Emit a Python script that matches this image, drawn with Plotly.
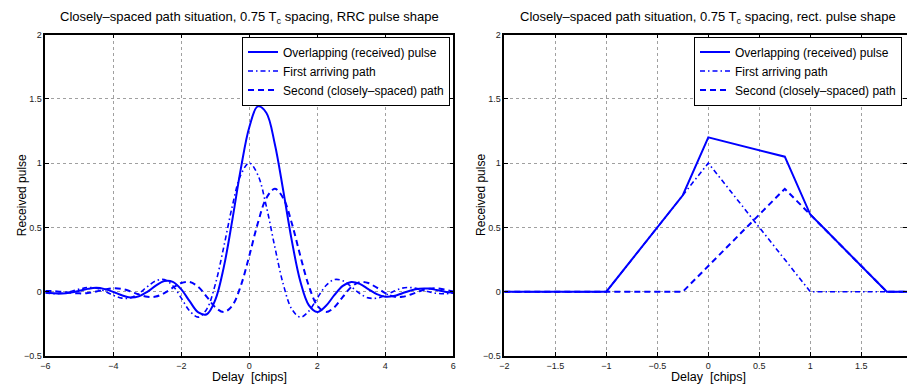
import plotly.graph_objects as go

W, H = 907, 385

# ---------------- data ----------------
delay_rrc = [-6.0, -5.75, -5.5, -5.25, -5.0, -4.75, -4.5, -4.25, -4.0, -3.75, -3.5, -3.25,
             -3.0, -2.75, -2.5, -2.25, -2.0, -1.75, -1.5, -1.25, -1.0, -0.75, -0.5, -0.25,
             0.0, 0.25, 0.5, 0.75, 1.0, 1.25, 1.5, 1.75, 2.0, 2.25, 2.5, 2.75,
             3.0, 3.25, 3.5, 3.75, 4.0, 4.25, 4.5, 4.75, 5.0, 5.25, 5.5, 5.75, 6.0]

rrc_first = [-0.010, -0.016, -0.012, 0.002, 0.020, 0.032, 0.028, 0.004, -0.028, -0.050, -0.048, -0.014,
             0.039, 0.085, 0.094, 0.046, -0.050, -0.151, -0.198, -0.135, 0.057, 0.349, 0.665, 0.909,
             1.000, 0.909, 0.665, 0.349, 0.057, -0.135, -0.198, -0.151, -0.050, 0.046, 0.094, 0.085,
             0.039, -0.014, -0.048, -0.050, -0.028, 0.004, 0.028, 0.032, 0.020, 0.002, -0.012, -0.016, -0.010]

rrc_second = [0.006, 0.004, -0.002, -0.008, -0.013, -0.010, 0.002, 0.016, 0.026, 0.022, 0.003, -0.022,
              -0.040, -0.038, -0.011, 0.031, 0.068, 0.075, 0.037, -0.040, -0.121, -0.158, -0.108, 0.046,
              0.279, 0.532, 0.727, 0.800, 0.727, 0.532, 0.279, 0.046, -0.108, -0.158, -0.121, -0.040,
              0.037, 0.075, 0.068, 0.031, -0.011, -0.038, -0.040, -0.022, 0.003, 0.022, 0.026, 0.016, 0.002]

rrc_overlap = [-0.004, -0.012, -0.014, -0.006, 0.007, 0.022, 0.030, 0.020, -0.002, -0.028, -0.045, -0.036,
               -0.001, 0.047, 0.083, 0.077, 0.018, -0.076, -0.161, -0.175, -0.064, 0.191, 0.557, 0.955,
               1.279, 1.441, 1.392, 1.149, 0.784, 0.397, 0.081, -0.105, -0.158, -0.112, -0.027, 0.045,
               0.076, 0.061, 0.020, -0.019, -0.039, -0.034, -0.012, 0.010, 0.023, 0.024, 0.014, 0.000, -0.008]

delay_rect = [-2.0, -1.0, -0.25, 0.0, 0.75, 1.0, 1.75, 2.0]
rect_first = [0.0, 0.0, 0.75, 1.0, 0.25, 0.0, 0.0, 0.0]
rect_second = [0.0, 0.0, 0.0, 0.2, 0.8, 0.6, 0.0, 0.0]
rect_overlap = [0.0, 0.0, 0.75, 1.2, 1.05, 0.6, 0.0, 0.0]

series_names = ["Overlapping (received) pulse", "First arriving path", "Second (closely\u2013spaced) path"]
titles = ["Closely\u2013spaced path situation, 0.75 T<sub>c</sub> spacing, RRC pulse shape",
          "Closely\u2013spaced path situation, 0.75 T<sub>c</sub> spacing, rect. pulse shape"]
xlabel = "Delay\u00a0\u00a0[chips]"
ylabel = "Received pulse"
rrc_xticks = [-6, -4, -2, 0, 2, 4, 6]
rect_xticks = [-2, -1.5, -1, -0.5, 0, 0.5, 1, 1.5, 2]
yticks = [-0.5, 0, 0.5, 1, 1.5, 2]

# ---------------- styling ----------------
FONT = "Liberation Sans, Arial, Helvetica, sans-serif"
BLUE = "rgb(0,0,255)"
dashes = ["solid", "5px,3px,1.5px,3px", "6px,4px"]
widths = [2, 1.6, 2]

L_x0, L_x1 = 45.3, 453.3
R_x0 = 504.3
R_px_per_unit = 102.0
Y_top, Y_bot = 34.5, 356.0

def px2fx(px):
    return px / W

def px2fy(py):
    return 1 - py / H

fig = go.Figure()

left_sets = [rrc_overlap, rrc_first, rrc_second]
for i, ys in enumerate(left_sets):
    fig.add_trace(go.Scatter(
        x=delay_rrc, y=ys, mode="lines", name=series_names[i],
        line=dict(color=BLUE, width=widths[i], dash=dashes[i], shape="spline", smoothing=1.0),
        xaxis="x", yaxis="y", legend="legend"))

right_sets = [rect_overlap, rect_first, rect_second]
for i, ys in enumerate(right_sets):
    fig.add_trace(go.Scatter(
        x=delay_rect, y=ys, mode="lines", name=series_names[i],
        line=dict(color=BLUE, width=widths[i], dash=dashes[i]),
        xaxis="x2", yaxis="y2", legend="legend2"))

axis_common = dict(
    showline=True, linecolor="black", linewidth=1.5, mirror="allticks",
    ticks="inside", ticklen=4, tickcolor="black", tickwidth=1,
    showgrid=True, gridcolor="#a0a0a0", griddash="dot", gridwidth=1,
    zeroline=False, tickfont=dict(family=FONT, size=9, color="#222"),
)

right_xmax = -2 + (W - R_x0) / R_px_per_unit

fig.update_layout(
    width=W, height=H,
    margin=dict(l=0, r=0, t=0, b=0, autoexpand=False),
    paper_bgcolor="white", plot_bgcolor="white",
    font=dict(family=FONT, size=12, color="black"),
    xaxis=dict(domain=[px2fx(L_x0), px2fx(L_x1)], range=[-6, 6], tickvals=rrc_xticks,
               anchor="y", **axis_common),
    yaxis=dict(domain=[px2fy(Y_bot), px2fy(Y_top)], range=[-0.5, 2], tickvals=yticks,
               anchor="x", **axis_common),
    xaxis2=dict(domain=[px2fx(R_x0), 1.0], range=[-2, right_xmax], tickvals=rect_xticks,
                anchor="y2", **axis_common),
    yaxis2=dict(domain=[px2fy(Y_bot), px2fy(Y_top)], range=[-0.5, 2], tickvals=yticks,
                anchor="x2", **axis_common),
    legend=dict(x=px2fx(450), y=px2fy(36.5), xanchor="right", yanchor="top",
                bgcolor="white", bordercolor="black", borderwidth=1,
                font=dict(family=FONT, size=12), itemwidth=30, tracegroupgap=0),
    legend2=dict(x=px2fx(694), y=px2fy(36.5), xanchor="left", yanchor="top",
                 bgcolor="white", bordercolor="black", borderwidth=1,
                 font=dict(family=FONT, size=12), itemwidth=30, tracegroupgap=0),
    showlegend=True,
)

annotations = []
centers = [(L_x0 + L_x1) / 2, R_x0 + 2 * R_px_per_unit]
yl_x = [22, 481.7]
for i in range(2):
    annotations.append(dict(text=titles[i], x=px2fx(centers[i]), y=px2fy(17), xref="paper", yref="paper",
                            xanchor="center", yanchor="middle", showarrow=False,
                            font=dict(family=FONT, size=13)))
    annotations.append(dict(text=xlabel, x=px2fx(centers[i]), y=px2fy(376.5), xref="paper", yref="paper",
                            xanchor="center", yanchor="middle", showarrow=False,
                            font=dict(family=FONT, size=12.5)))
    annotations.append(dict(text=ylabel, x=px2fx(yl_x[i]), y=px2fy((Y_top + Y_bot) / 2), xref="paper",
                            yref="paper", xanchor="center", yanchor="middle", showarrow=False,
                            textangle=-90, font=dict(family=FONT, size=12)))
fig.update_layout(annotations=annotations)

fig.write_html("out.html")
